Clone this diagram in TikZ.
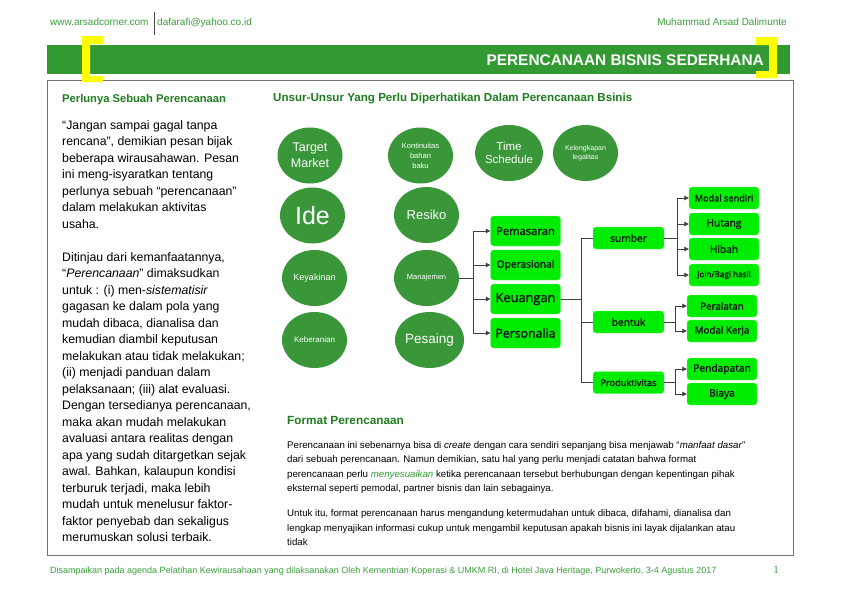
\documentclass[tikz,border=0pt]{standalone}
\usepackage{fontspec}
\setmainfont{Liberation Sans}
\newfontfamily\boxfont{Open Sans}[FakeBold=2]
\newfontfamily\pgnumfont{Liberation Serif}
\usetikzlibrary{arrows.meta,calc,shapes.geometric}
\definecolor{bannergreen}{RGB}{51,153,51}
\definecolor{ovalgreen}{RGB}{57,150,57}
\definecolor{limegreen}{RGB}{0,236,0}
\definecolor{limeedge}{RGB}{120,250,120}
\definecolor{headgreen}{RGB}{30,125,30}
\definecolor{linkgreen}{RGB}{60,160,60}
\definecolor{markyellow}{RGB}{255,255,0}
\newcommand{\fsz}[2]{\fontsize{#1}{#2}\selectfont}

\begin{document}
\begin{tikzpicture}[
  x=1pt, y=-1pt,
  oval/.style={ellipse, fill=ovalgreen, text=white, minimum width=65pt, minimum height=56pt, inner sep=0pt, align=center},
  lvla/.style={draw=limeedge, fill=limegreen, rounded corners=3pt, minimum width=70pt, minimum height=30pt, inner sep=0pt, text=black!90},
  lvlb/.style={lvla, minimum width=71pt, minimum height=22pt},
  lvlc/.style={lvla, minimum height=22pt},
  link/.style={draw=black!75, line width=0.8pt},
  arr/.style={link, -{Triangle[length=4.5pt,width=4.5pt]}},
  para/.style={anchor=north west, inner sep=0pt, align=left},
  line/.style={anchor=base west, inner sep=0pt},
  ]
  \fill[white] (0,0) rectangle (842,595);
  \useasboundingbox (0,0) rectangle (842,595);
  % header
  \node[line, text=linkgreen, font=\fsz{10}{12}] (url) at (50,25.5) {www.arsadcorner.com};
  \draw[black!70, line width=0.6pt] (154,12) -- (154,35);
  \node[line, text=linkgreen, font=\fsz{10}{12}] (mail) at (157,25.5) {dafarafi@yahoo.co.id};
  \node[anchor=base east, inner sep=0pt, text=linkgreen, font=\fsz{10}{12}] (auth) at (787,25.5) {Muhammad Arsad Dalimunte};
  % title banner
  \fill[bannergreen] (47,45) rectangle (790,74);
  \node[anchor=east, inner sep=0pt, text=white, font=\bfseries\fsz{15.4}{18}] (title) at (764,60) {PERENCANAAN BISNIS SEDERHANA};
  \draw[black!55, line width=0.8pt] (47,80) rectangle (793,555);
  \fill[markyellow] (82,36) -- (103,36) -- (103,44) -- (90,44) -- (90,76) -- (103,76) -- (103,82) -- (82,82) -- cycle;
  \fill[markyellow] (777,37) -- (756,37) -- (756,45) -- (769,45) -- (769,71) -- (756,71) -- (756,78) -- (777,78) -- cycle;
  % left column
  \node[line, text=headgreen, font=\bfseries\fsz{11.2}{13}] (lhead) at (62,102) {Perlunya Sebuah Perencanaan};
  \node[para, font=\fsz{12.3}{16.5}] (ltext) at (62,120) {“Jangan sampai gagal tanpa\\
    rencana”, demikian pesan bijak\\
    beberapa wirausahawan. Pesan\\
    ini meng-isyaratkan tentang\\
    perlunya sebuah “perencanaan”\\
    dalam melakukan aktivitas\\
    usaha.\\[16.5pt]
    Ditinjau dari kemanfaatannya,\\
    “\emph{Perencanaan}” dimaksudkan\\
    untuk : (i) men-\emph{sistematisir}\\
    gagasan ke dalam pola yang\\
    mudah dibaca, dianalisa dan\\
    kemudian diambil keputusan\\
    melakukan atau tidak melakukan;\\
    (ii) menjadi panduan dalam\\
    pelaksanaan; (iii) alat evaluasi.\\
    Dengan tersedianya perencanaan,\\
    maka akan mudah melakukan\\
    avaluasi antara realitas dengan\\
    apa yang sudah ditargetkan sejak\\
    awal. Bahkan, kalaupun kondisi\\
    terburuk terjadi, maka lebih\\
    mudah untuk menelusur faktor-\\
    faktor penyebab dan sekaligus\\
    merumuskan solusi terbaik.};
  % elements
  \node[line, text=headgreen, font=\bfseries\fsz{11.6}{13}] (dhead) at (273,101) {Unsur-Unsur Yang Perlu Diperhatikan Dalam Perencanaan Bsinis};
  \node[oval, font=\fsz{12.5}{16.5}] (tmkt) at (310,155.5) {Target\\Market};
  \node[oval, font=\fsz{7.5}{10}] (kont) at (420.5,155.5) {Kontinuitas\\bahan\\baku};
  \node[oval, font=\fsz{11.5}{12.7}] (time) at (509,153) {Time\\Schedule};
  \node[oval, font=\fsz{7}{9.3}] (legal) at (585.5,153) {Kelengkapan\\legalitas};
  \node[oval, font=\fsz{25}{25}] (ide) at (312.5,215.5) {Ide};
  \node[oval, font=\fsz{13}{15}] (resk) at (426.5,215) {Resiko};
  \node[oval, font=\fsz{9}{10}] (yakin) at (314.5,278) {Keyakinan};
  \node[oval, font=\fsz{7.5}{9}] (manaj) at (426.5,278) {Manajemen};
  \node[oval, font=\fsz{8}{9}] (berani) at (314.5,340) {Keberanian};
  \node[oval, font=\fsz{13.5}{15}] (saing) at (429.5,340) {Pesaing};
  % management tree
  \node[lvla, font=\boxfont\fsz{11.2}{12}] (pem) at (525.5,231) {Pemasaran};
  \node[lvla, font=\boxfont\fsz{10.2}{12}] (ops) at (525.5,265) {Operasional};
  \node[lvla, font=\boxfont\fsz{12.8}{14}] (keu) at (525.5,299) {Keuangan};
  \node[lvla, font=\boxfont\fsz{12.3}{14}] (per) at (525.5,333) {Personalia};
  \node[lvlb, font=\boxfont\fsz{10.2}{12}] (sumb) at (628.5,238) {sumber};
  \node[lvlb, font=\boxfont\fsz{10.2}{12}] (bent) at (628.5,322) {bentuk};
  \node[lvlb, font=\boxfont\fsz{9.2}{11}] (prod) at (628.5,382.5) {Produktivitas};
  \node[lvlc, font=\boxfont\fsz{9.2}{11}] (msend) at (724,198) {Modal sendiri};
  \node[lvlc, font=\boxfont\fsz{10.2}{12}] (hutang) at (724,224) {Hutang};
  \node[lvlc, font=\boxfont\fsz{10.2}{12}] (hibah) at (724,249) {Hibah};
  \node[lvlc, font=\boxfont\fsz{8.2}{10}] (join) at (724,275) {Join/Bagi hasil};
  \node[lvlc, font=\boxfont\fsz{9.8}{11}] (peral) at (722,306) {Peralatan};
  \node[lvlc, font=\boxfont\fsz{9.8}{11}] (mkerja) at (722,331) {Modal Kerja};
  \node[lvlc, font=\boxfont\fsz{10.2}{12}] (pdpt) at (722,369) {Pendapatan};
  \node[lvlc, font=\boxfont\fsz{10.2}{12}] (biaya) at (722,394) {Biaya};
  \coordinate (mfork) at ($(manaj.east)+(14,0)$);
  \draw[link] (manaj.east) -- (mfork);
  \draw[link] (mfork |- pem) -- (mfork |- per);
  \foreach \b in {pem,ops,keu,per} \draw[arr] (mfork |- \b) -- (\b);
  \coordinate (kfork) at ($(keu.east)+(21,0)$);
  \draw[link] (keu) -- (kfork);
  \draw[link] (kfork |- sumb) -- (kfork |- prod);
  \foreach \b in {sumb,bent,prod} \draw[link] (kfork |- \b) -- (\b);
  \coordinate (sfork) at ($(sumb.east)+(13,0)$);
  \draw[link] (sumb) -- (sfork);
  \draw[link] (sfork |- msend) -- (sfork |- join);
  \foreach \b in {msend,hutang,hibah,join} \draw[arr] (sfork |- \b) -- (\b);
  \coordinate (bfork) at ($(bent.east)+(11,0)$);
  \draw[link] (bent) -- (bfork);
  \draw[link] (bfork |- peral) -- (bfork |- mkerja);
  \foreach \b in {peral,mkerja} \draw[arr] (bfork |- \b) -- (\b);
  \coordinate (pfork) at ($(prod.east)+(11,0)$);
  \draw[link] (prod) -- (pfork);
  \draw[link] (pfork |- pdpt) -- (pfork |- biaya);
  \foreach \b in {pdpt,biaya} \draw[arr] (pfork |- \b) -- (\b);
  % format
  \node[line, text=headgreen, font=\bfseries\fsz{11.8}{14}] (fhead) at (287,424) {Format Perencanaan};
  \node[para, font=\fsz{9.7}{14.5}] (ftext) at (287,441) {Perencanaan ini sebenarnya bisa di \emph{create} dengan cara sendiri sepanjang bisa menjawab “\emph{manfaat dasar}”\\
    dari sebuah perencanaan. Namun demikian, satu hal yang perlu menjadi catatan bahwa format\\
    perencanaan perlu {\color{bannergreen}\emph{menyesuaikan}} ketika perencanaan tersebut berhubungan dengan kepentingan pihak\\
    eksternal seperti pemodal, partner bisnis dan lain sebagainya.\\[10.5pt]
    Untuk itu, format perencanaan harus mengandung ketermudahan untuk dibaca, difahami, dianalisa dan\\
    lengkap menyajikan informasi cukup untuk mengambil keputusan apakah bisnis ini layak dijalankan atau\\
    tidak};
  % footer
  \node[line, text=linkgreen, font=\fsz{9}{11}] (foot) at (50,573) {Disampaikan pada agenda Pelatihan Kewirausahaan yang dilaksanakan Oleh Kementrian Koperasi \& UMKM RI, di Hotel Java Heritage, Purwokerto, 3-4 Agustus 2017};
  \node[anchor=base east, inner sep=0pt, text=linkgreen, font=\pgnumfont\fsz{11}{12}] (pg) at (779,573) {1};
\end{tikzpicture}
\end{document}
